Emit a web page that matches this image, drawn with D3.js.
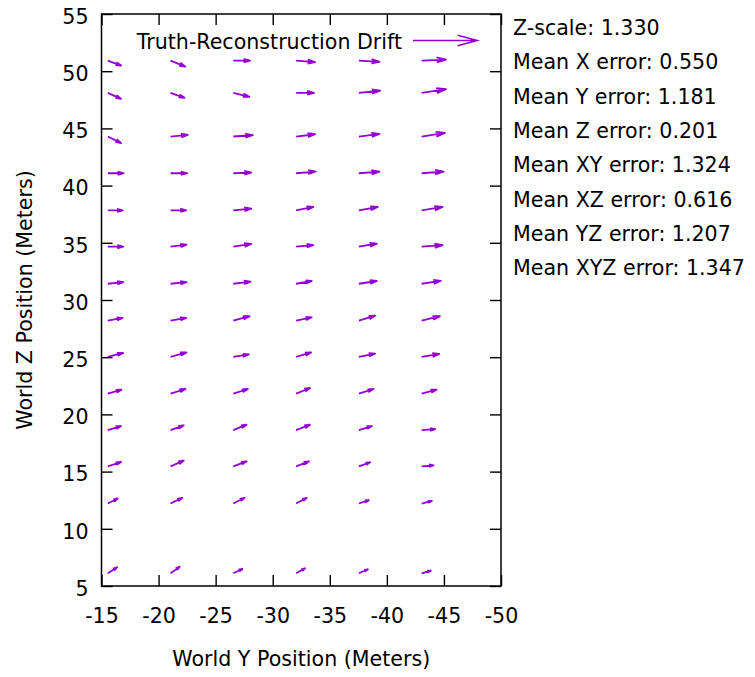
<!DOCTYPE html>
<html>
<head>
<meta charset="utf-8">
<script src="https://cdn.jsdelivr.net/npm/d3@7"></script>
<style>
  body { margin: 0; background: #fff; }
  text { font-family: "DejaVu Sans", sans-serif; fill: #000; }
</style>
</head>
<body>
<div id="chart"></div>
<script>
// === data ===
const colY = [-15.55, -21.05, -26.55, -32.05, -37.55, -43.05];          // world Y of each column
const rowZ = [50.93, 48.11, 44.29, 41.08, 37.84, 34.66, 31.42, 28.2, 25.03, 21.81, 18.63, 15.46, 12.21, 6.11];

// drift along world Y, one row per rowZ entry
const driftY = [
  [-1.17, -1.31, -1.46, -1.66, -1.80, -2.13],
  [-1.17, -1.22, -1.40, -1.57, -1.86, -2.13],
  [-1.17, -1.51, -1.71, -1.66, -1.80, -2.04],
  [-1.40, -1.46, -1.57, -1.72, -1.80, -1.92],
  [-1.31, -1.37, -1.57, -1.51, -1.66, -1.84],
  [-1.35, -1.40, -1.57, -1.51, -1.57, -1.84],
  [-1.35, -1.40, -1.51, -1.37, -1.57, -1.69],
  [-1.29, -1.37, -1.43, -1.37, -1.45, -1.60],
  [-1.35, -1.40, -1.36, -1.31, -1.43, -1.54],
  [-1.20, -1.31, -1.28, -1.22, -1.28, -1.31],
  [-1.17, -1.16, -1.16, -1.22, -1.14, -1.19],
  [-1.17, -1.16, -1.16, -1.14, -0.99, -1.05],
  [-0.87, -1.02, -0.99, -0.94, -0.87, -0.90],
  [-0.82, -0.81, -0.79, -0.79, -0.79, -0.81]
];
// drift along world Z
const driftZ = [
  [-0.44, -0.53, 0.00, -0.14, -0.11, 0.09],
  [-0.53, -0.44, -0.35, 0.00, 0.18, 0.32],
  [-0.58, 0.14, 0.11, 0.20, 0.23, 0.32],
  [0.00, 0.00, 0.06, 0.15, 0.15, 0.15],
  [0.00, 0.00, 0.15, 0.30, 0.29, 0.30],
  [0.00, 0.18, 0.24, 0.14, 0.26, 0.14],
  [0.15, 0.15, 0.18, 0.24, 0.24, 0.26],
  [0.24, 0.24, 0.39, 0.29, 0.44, 0.38],
  [0.35, 0.39, 0.21, 0.39, 0.29, 0.26],
  [0.35, 0.41, 0.41, 0.50, 0.41, 0.35],
  [0.35, 0.41, 0.47, 0.47, 0.35, 0.09],
  [0.38, 0.50, 0.44, 0.44, 0.35, 0.09],
  [0.44, 0.50, 0.50, 0.50, 0.29, 0.23],
  [0.53, 0.58, 0.38, 0.44, 0.35, 0.23]
];

const xTicks = [-15, -20, -25, -30, -35, -40, -45, -50];
const yTicks = [5, 10, 15, 20, 25, 30, 35, 40, 45, 50, 55];

const statLines = [
  "Z-scale: 1.330",
  "Mean X error: 0.550",
  "Mean Y error: 1.181",
  "Mean Z error: 0.201",
  "Mean XY error: 1.324",
  "Mean XZ error: 0.616",
  "Mean YZ error: 1.207",
  "Mean XYZ error: 1.347"
];

// === layout ===
const width = 755, height = 677;
const plot = {left: 101.5, right: 501, top: 14, bottom: 586};
const arrowColor = "#9400d3";
const fontSize = 20.6;
const tickLen = 11;

const svg = d3.select("#chart").append("svg")
    .attr("width", width).attr("height", height);

const x = d3.scaleLinear().domain([-15, -50]).range([plot.left, plot.right]);
const y = d3.scaleLinear().domain([5, 55]).range([plot.bottom, plot.top]);

// plain hyphen minus like gnuplot, not the unicode minus of d3.format
const plainFmt = d => String(d);

// axes, ticks pointing inwards, mirrored on top/right
svg.append("g").attr("transform", `translate(0,${plot.bottom})`)
    .call(d3.axisBottom(x).tickValues(xTicks).tickSize(-tickLen).tickPadding(22).tickFormat(plainFmt))
    .call(g => g.selectAll("text").style("font-size", fontSize + "px"));

svg.append("g").attr("transform", `translate(0,${plot.top})`)
    .call(d3.axisTop(x).tickValues(xTicks).tickSize(-tickLen).tickFormat(""));

svg.append("g").attr("transform", `translate(${plot.left},0)`)
    .call(d3.axisLeft(y).tickValues(yTicks).tickSize(-tickLen).tickPadding(13).tickFormat(plainFmt))
    .call(g => g.selectAll("text").style("font-size", fontSize + "px").attr("dy", "0.45em"));

svg.append("g").attr("transform", `translate(${plot.right},0)`)
    .call(d3.axisRight(y).tickValues(yTicks).tickSize(-tickLen).tickFormat(""));

svg.selectAll(".domain").remove();
svg.selectAll(".tick line").attr("stroke", "#000").attr("stroke-width", 1.4);

svg.append("rect")
    .attr("x", plot.left).attr("y", plot.top)
    .attr("width", plot.right - plot.left).attr("height", plot.bottom - plot.top)
    .attr("fill", "none").attr("stroke", "#000").attr("stroke-width", 1.5);

// axis titles
svg.append("text")
    .attr("x", (plot.left + plot.right) / 2).attr("y", 666)
    .attr("text-anchor", "middle").style("font-size", fontSize + "px")
    .text("World Y Position (Meters)");

svg.append("text")
    .attr("transform", `translate(25,${(plot.top + plot.bottom) / 2}) rotate(-90)`)
    .attr("text-anchor", "middle").attr("dy", "0.35em").style("font-size", fontSize + "px")
    .text("World Z Position (Meters)");

// vectors
const vectors = [];
rowZ.forEach((z, i) => {
    colY.forEach((yy, j) => {
        vectors.push({y0: yy, z0: z, dy: driftY[i][j], dz: driftZ[i][j]});
    });
});

function arrowPath(x1, y1, x2, y2, head) {
    const ang = Math.atan2(y2 - y1, x2 - x1);
    const spread = 15 * Math.PI / 180;
    const p = d3.path();
    p.moveTo(x1, y1);
    p.lineTo(x2, y2);
    p.moveTo(x2 - head * Math.cos(ang - spread), y2 - head * Math.sin(ang - spread));
    p.lineTo(x2, y2);
    p.lineTo(x2 - head * Math.cos(ang + spread), y2 - head * Math.sin(ang + spread));
    return p.toString();
}

svg.append("g").selectAll("path")
    .data(vectors)
    .join("path")
    .attr("d", d => {
        const x1 = x(d.y0), y1 = y(d.z0), x2 = x(d.y0 + d.dy), y2 = y(d.z0 + d.dz);
        const len = Math.hypot(x2 - x1, y2 - y1);
        return arrowPath(x1, y1, x2, y2, Math.min(10, len * 0.4));
    })
    .attr("fill", "none")
    .attr("stroke", arrowColor)
    .attr("stroke-width", 1.8)
    .attr("stroke-linejoin", "round");

// key
svg.append("text")
    .attr("x", 402).attr("y", 49)
    .attr("text-anchor", "end").style("font-size", fontSize + "px")
    .text("Truth-Reconstruction Drift");

svg.append("path")
    .attr("d", arrowPath(413, 40.5, 477, 40.5, 20))
    .attr("fill", "none").attr("stroke", arrowColor).attr("stroke-width", 1.6);

// stats column
svg.append("g").selectAll("text")
    .data(statLines)
    .join("text")
    .attr("x", 513)
    .attr("y", (d, i) => 35 + i * 34.3)
    .style("font-size", fontSize + "px")
    .text(d => d);
</script>
</body>
</html>
